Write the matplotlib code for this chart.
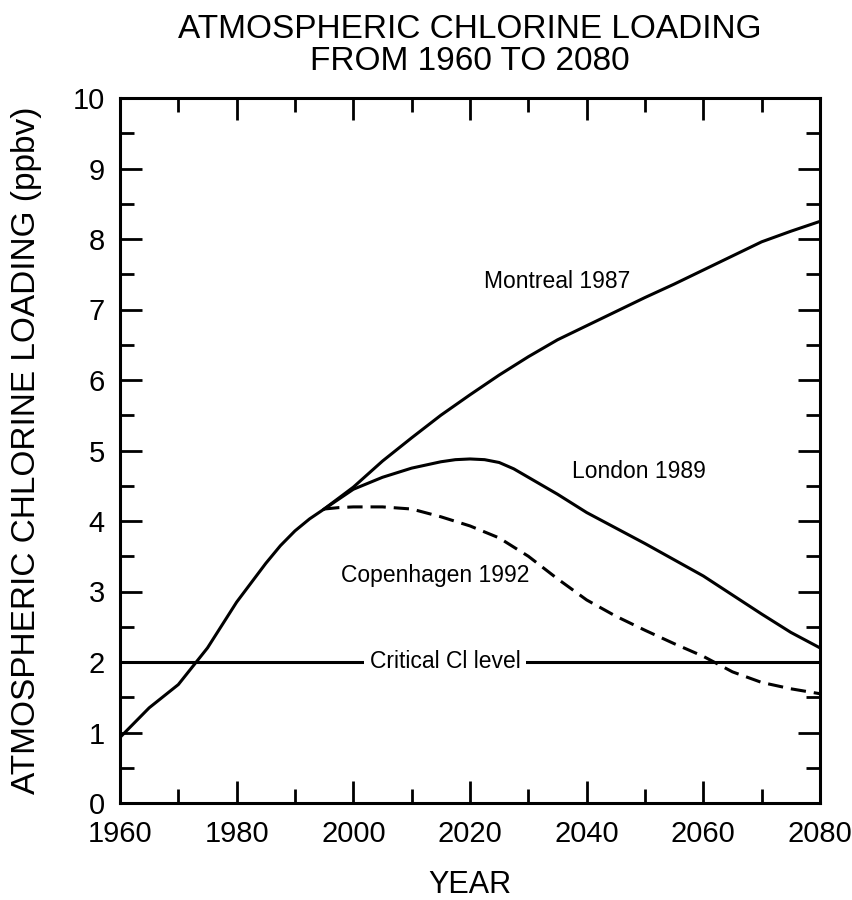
import matplotlib.pyplot as plt
from matplotlib.ticker import MultipleLocator

plt.rcParams['font.family'] = ['Liberation Sans', 'DejaVu Sans']

# values
years_montreal = [1960, 1965, 1970, 1975, 1980, 1985, 1987.5, 1990, 1992.5, 1995, 2000,
                  2005, 2010, 2015, 2020, 2025, 2030, 2035, 2040, 2045, 2050, 2055,
                  2060, 2065, 2070, 2075, 2080]
montreal = [0.93, 1.35, 1.68, 2.2, 2.85, 3.4, 3.65, 3.86, 4.03, 4.17, 4.48,
            4.85, 5.18, 5.5, 5.79, 6.07, 6.33, 6.57, 6.77, 6.97, 7.17, 7.36,
            7.56, 7.76, 7.96, 8.11, 8.25]

years_london = [1995, 2000, 2005, 2010, 2015, 2017.5, 2020, 2022.5, 2025, 2027.5, 2030,
                2035, 2040, 2045, 2050, 2055, 2060, 2065, 2070, 2075, 2080]
london = [4.17, 4.45, 4.62, 4.75, 4.84, 4.87, 4.88, 4.87, 4.83, 4.74, 4.62,
          4.38, 4.12, 3.9, 3.68, 3.45, 3.22, 2.95, 2.68, 2.42, 2.2]

years_copenhagen = [1995, 1997.5, 2000, 2005, 2010, 2015, 2020, 2025, 2030, 2035, 2040,
                    2045, 2050, 2055, 2060, 2065, 2070, 2075, 2080]
copenhagen = [4.17, 4.19, 4.2, 4.2, 4.17, 4.06, 3.93, 3.76, 3.5, 3.18, 2.88,
              2.65, 2.45, 2.26, 2.08, 1.86, 1.71, 1.62, 1.55]

critical_level = 2.0

fig = plt.figure(figsize=(8.52, 9), dpi=100)
ax = fig.add_axes([120/852, 97/900, 700/852, 705/900])

ax.plot(years_montreal, montreal, color='black', lw=2.2)
ax.plot(years_london, london, color='black', lw=2.2)
ax.plot(years_copenhagen, copenhagen, color='black', lw=2.2, dashes=(5, 2.6))
ax.plot([1960, 2080], [critical_level, critical_level], color='black', lw=2.2)

ax.text(2035, 7.4, 'Montreal 1987', fontsize=16.5, ha='center', va='center')
ax.text(2049, 4.7, 'London 1989', fontsize=16.5, ha='center', va='center')
ax.text(2014, 3.23, 'Copenhagen 1992', fontsize=16.5, ha='center', va='center')
ax.text(2015.7, critical_level, 'Critical Cl level', fontsize=16.5, ha='center',
        va='center', bbox=dict(facecolor='white', edgecolor='none', pad=4))

ax.set_xlim(1960, 2080)
ax.set_ylim(0, 10)
ax.xaxis.set_major_locator(MultipleLocator(20))
ax.xaxis.set_minor_locator(MultipleLocator(10))
ax.yaxis.set_major_locator(MultipleLocator(1))
ax.yaxis.set_minor_locator(MultipleLocator(0.5))
ax.tick_params(which='both', direction='in', top=True, right=True, width=2, labelsize=21)
ax.tick_params(which='major', length=16)
ax.tick_params(which='minor', length=10)
ax.tick_params(axis='x', pad=12)
ax.tick_params(axis='y', pad=11)
for s in ax.spines.values():
    s.set_linewidth(2.2)

fig.text(470/852, 1 - 14/900, 'ATMOSPHERIC CHLORINE LOADING\nFROM 1960 TO 2080',
         fontsize=24, ha='center', va='top', linespacing=1.05)
fig.text(27/852, 0.5, 'ATMOSPHERIC CHLORINE LOADING (ppbv)', fontsize=24,
         rotation=90, ha='center', va='center')
fig.text(470/852, 1 - 885/900, 'YEAR', fontsize=22, ha='center', va='center')

fig.savefig('out.png', dpi=100)
